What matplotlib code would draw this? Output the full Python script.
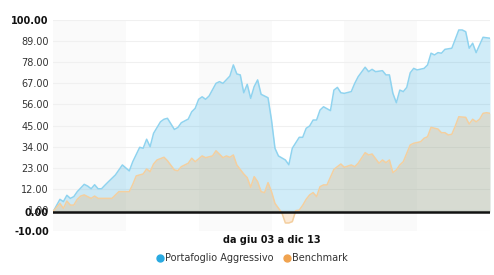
import matplotlib.pyplot as plt
from matplotlib.lines import Line2D

# months since giu 03 (0 = Jun 2003, 126 = Dec 2013)
agg_month = [0, 2, 3, 4, 5, 6, 7, 9, 10, 11, 12, 13, 14, 15, 16, 18, 20, 22, 23, 25,
             26, 27, 28, 29, 31, 32, 33, 35, 36, 37, 39, 40, 41, 42, 43, 44, 45, 47, 48, 49,
             51, 52, 53, 54, 55, 56, 57, 58, 59, 60, 62, 63, 64, 65, 67, 68, 69, 71, 72, 73,
             74, 75, 76, 77, 78, 80, 81, 82, 83, 84, 86, 87, 88, 90, 91, 92, 93, 95, 96, 97,
             98, 99, 100, 101, 102, 103, 104, 105, 107, 108, 109, 110, 111, 112, 113, 115, 116, 117, 118, 119,
             120, 121, 122, 123, 124, 126]
agg_value = [0.0, 6.6, 5.4, 8.7, 7.1, 8.0, 10.6, 14.4, 13.5, 12.1, 14.2, 12.1, 12.1, 14.0, 15.8, 19.3, 24.5, 21.4, 26.2, 33.7,
             33.2, 37.9, 34.0, 41.0, 47.0, 48.3, 48.8, 43.0, 44.0, 46.5, 48.4, 52.2, 54.0, 58.7, 60.0, 58.7, 60.4, 67.0, 67.9, 67.0,
             70.8, 76.6, 71.9, 71.4, 62.1, 66.5, 59.2, 65.3, 68.8, 61.3, 59.5, 47.9, 33.2, 29.2, 27.1, 24.6, 33.2, 38.9, 38.9, 43.6,
             44.8, 47.9, 47.9, 53.1, 54.8, 52.8, 63.5, 64.9, 62.1, 61.8, 62.7, 67.0, 70.5, 75.4, 73.1, 74.3, 73.1, 73.6, 71.4, 71.4,
             61.8, 56.9, 63.5, 62.7, 64.9, 72.5, 74.8, 74.0, 74.8, 76.6, 82.7, 81.8, 83.0, 82.7, 84.7, 85.3, 90.0, 94.8, 94.8, 93.9,
             85.3, 87.9, 83.0, 87.0, 91.0, 90.5]

bench_month = [0, 2, 3, 4, 5, 6, 7, 8, 9, 11, 12, 13, 15, 17, 19, 22, 23, 24, 26, 27,
               28, 29, 30, 32, 33, 35, 36, 37, 39, 40, 41, 43, 44, 46, 47, 49, 50, 51, 52, 53,
               55, 56, 57, 58, 59, 60, 61, 62, 63, 64, 66, 67, 68, 69, 70, 71, 72, 73, 74, 75,
               76, 77, 78, 79, 81, 83, 84, 86, 87, 88, 90, 91, 92, 94, 95, 96, 97, 98, 99, 100,
               101, 103, 104, 106, 107, 108, 109, 111, 112, 113, 114, 115, 116, 117, 119, 120, 121, 122, 123, 124,
               125, 126]
bench_value = [0.2, 4.5, 1.9, 5.7, 3.6, 3.6, 6.6, 8.3, 8.9, 7.1, 8.3, 7.1, 7.1, 7.1, 10.6, 10.6, 14.4, 18.8, 19.8, 22.4,
               21.0, 25.0, 27.1, 28.5, 26.7, 21.9, 21.5, 23.6, 25.4, 28.0, 26.2, 29.2, 28.3, 29.2, 31.9, 28.3, 29.2, 28.5, 29.7, 24.5,
               19.8, 17.9, 12.9, 18.4, 15.8, 10.6, 10.1, 15.3, 10.6, 4.5, -0.5, -5.7, -5.7, -5.0, 0.7, 1.0, 3.5, 6.6, 8.9, 10.1,
               8.0, 13.2, 14.1, 14.1, 22.2, 25.0, 23.3, 24.5, 23.6, 25.4, 30.9, 29.7, 30.2, 25.4, 27.1, 25.7, 27.1, 20.5, 21.9, 24.5,
               26.2, 34.9, 35.8, 36.6, 38.4, 39.2, 44.1, 43.2, 41.3, 41.3, 40.1, 40.5, 44.8, 49.6, 49.3, 45.8, 48.3, 47.0, 48.3, 51.4,
               51.7, 51.4]

y_ticks = [100, 89, 78, 67, 56, 45, 34, 23, 12, 1, 0, -10]
bold_ticks = [100, 0, -10]
bands = [(0, 21), (42, 63), (84, 105)]
x_label = 'da giu 03 a dic 13'
names = ['Portafoglio Aggressivo', 'Benchmark']

blue = '#29aae1'
orange = '#f0a34f'

fig = plt.figure(figsize=(4.94, 2.75), dpi=100)
ax = fig.add_axes([53 / 494, 1 - 231.2 / 275, 437 / 494, 211.2 / 275])

for a, b in bands:
    ax.axvspan(a, b, color='#fafafa', zorder=0, lw=0)
for t in y_ticks:
    ax.axhline(t, color='#f0f0f0', lw=0.8, zorder=0.5)

ax.fill_between(agg_month, agg_value, 0, color=blue, alpha=0.22, lw=0, zorder=1)
ax.plot(agg_month, agg_value, color='#8fd3ef', lw=1.1, zorder=2)
ax.fill_between(bench_month, bench_value, 0, color=orange, alpha=0.22, lw=0, zorder=3)
ax.plot(bench_month, bench_value, color='#f4cf9f', lw=1.1, zorder=4)
ax.axhline(0, color='#111111', lw=1.8, zorder=5)

ax.set_xlim(0, 126)
ax.set_ylim(-10, 100)
ax.set_yticks(y_ticks)
ax.set_yticklabels(['%.2f' % t for t in y_ticks], fontsize=7, color='#333333')
for lab, t in zip(ax.get_yticklabels(), y_ticks):
    if t in bold_ticks:
        lab.set_fontweight('bold')
        lab.set_color('#111111')
ax.tick_params(axis='y', length=0, pad=3)
ax.set_xticks([])
for s in ax.spines.values():
    s.set_visible(False)

fig.text(0.5 * (53 + 490) / 494, 1 - 240 / 275, x_label, ha='center', va='center',
         fontsize=7, fontweight='bold', color='#111111')

handles = [Line2D([], [], ls='', marker='o', ms=5, color=blue),
           Line2D([], [], ls='', marker='o', ms=5, color=orange)]
fig.legend(handles, names, loc='center', bbox_to_anchor=(0.51, 1 - 258 / 275), ncol=2,
           frameon=False, fontsize=7, handletextpad=0.1, columnspacing=1.0,
           handlelength=0.8, labelcolor='#333333')

fig.savefig('out.png', dpi=100)
